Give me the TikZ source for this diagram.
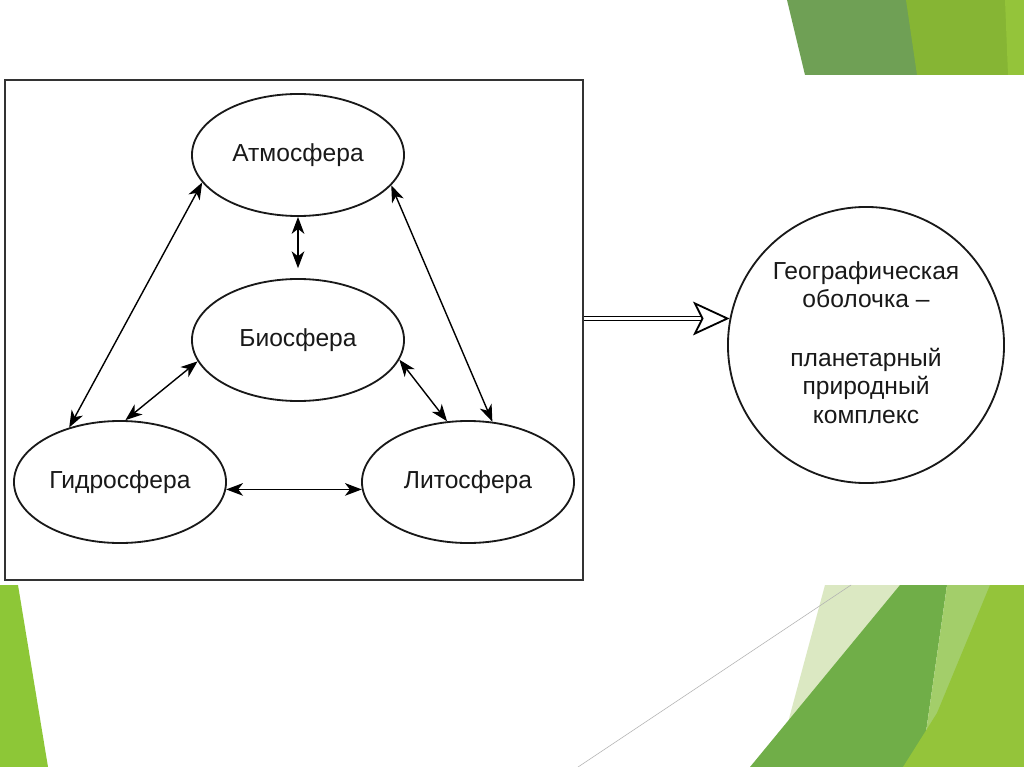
\documentclass[tikz,border=0pt]{standalone}
\usepackage{fontspec}
\setmainfont{Liberation Sans}
\usetikzlibrary{shapes.geometric,arrows.meta}
\definecolor{leafdark}{HTML}{6FA055}
\definecolor{leafmid}{HTML}{86B534}
\definecolor{leaflime}{HTML}{94C43A}
\definecolor{leafpale}{HTML}{DBE8C2}
\definecolor{leafdeep}{HTML}{70AE48}
\definecolor{leaflight}{HTML}{A3CE6A}

\begin{document}
\begin{tikzpicture}[x=0.025cm,y=-0.025cm,
  every node/.style={font=\fontsize{17.5}{20}\selectfont, text=black!90},
  sphere/.style={ellipse, draw=black!90, line width=1.3pt,
    minimum width=5.3cm, minimum height=3.05cm, inner sep=0pt},
  link/.style={line width=1pt,
    {Stealth[length=12pt,width=9pt,inset=3.5pt]}-{Stealth[length=12pt,width=9pt,inset=3.5pt]}},
  bigarrow/.style={double=white, double distance=2pt, line width=1pt,
    -{Stealth[open,length=26pt,width=24pt,inset=6pt,line width=1.3pt]}}
]
\useasboundingbox (0,0) rectangle (1024,767);
\fill[white] (0,0) rectangle (1024,767);

% green corners
\fill[leafdark] (787,0) -- (1024,0) -- (1024,75) -- (805,75) -- cycle;
\fill[leafmid] (906,0) -- (1024,0) -- (1024,75) -- (917,75) -- cycle;
\fill[leaflime] (1005,0) -- (1024,0) -- (1024,75) -- (1008,75) -- cycle;
\fill[leaflime!95!green] (0,585) -- (18,585) -- (48,767) -- (0,767) -- cycle;
\fill[leafpale] (825,585) -- (905,585) -- (860,767) -- (776,767) -- cycle;
\fill[leafdeep] (900,585) -- (947,585) -- (921,767) -- (750,767) -- cycle;
\fill[leaflight] (947,585) -- (1024,585) -- (1024,767) -- (921,767) -- cycle;
\fill[leaflime] (990,585) -- (1024,585) -- (1024,767) -- (903,767) -- (937,713) -- cycle;
\draw[gray!60, line width=0.4pt] (578,767) -- (851,585);

% frame and spheres
\node[draw=black!80, line width=1.2pt, minimum width=14.45cm, minimum height=12.5cm,
  inner sep=0pt] (frame) at (294,330) {};
\node[sphere] (atm) at (298,155) {Атмосфера};
\node[sphere] (bio) at (298,340) {Биосфера};
\node[sphere] (hyd) at (120,482) {Гидросфера};
\node[sphere] (lit) at (468,482) {Литосфера};

\draw[link, shorten >=7pt] (atm.south) -- (bio.north);
\draw[link] (atm.196) -- (hyd.133);
\draw[link] (atm.342) -- (lit.68);
\draw[link] (bio.192) -- (hyd.85);
\draw[link] (bio.349) -- (lit.109);
\draw[link] (hyd.-4) -- (lit.184);

% result
\node[circle, draw=black!90, line width=1.3pt, minimum size=6.9cm, inner sep=0pt,
  align=center] (geo) at (866,345)
  {Географическая\\оболочка --\\[22pt]планетарный\\природный\\комплекс\vphantom{р}};
\draw[bigarrow] (geo.169 -| frame.east) -- (geo.169);
\end{tikzpicture}
\end{document}
